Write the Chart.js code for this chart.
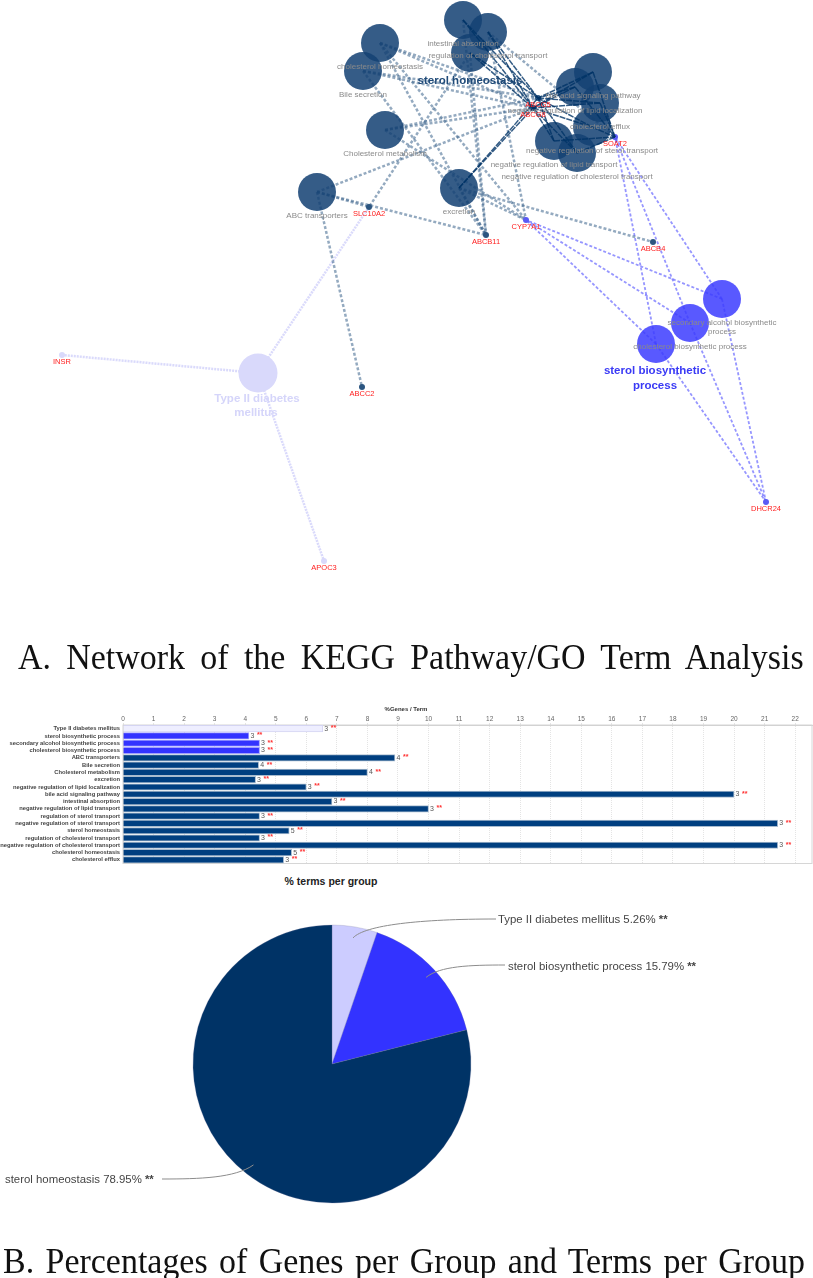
<!DOCTYPE html>
<html>
<head>
<meta charset="utf-8">
<script src="https://cdn.jsdelivr.net/npm/chart.js@4"></script>
<style>
  html, body { margin: 0; padding: 0; background: #fff; }
  body { position: relative; width: 813px; height: 1278px; overflow: hidden; }
  canvas { position: absolute; left: 0; }
  #netChart { top: 0; filter: blur(0.7px); }
  #barChart { top: 700px; filter: blur(0.4px); }
  #pieChart { top: 870px; }
  .caption {
    position: absolute; white-space: nowrap; z-index: 2; color: #111;
    font-family: "Liberation Serif", serif; font-size: 35px; line-height: 40px;
    transform-origin: left top; transform: scaleX(0.97);
  }
  #capA { left: 18px; top: 638px; word-spacing: 7px; }
  #capB { left: 3px; top: 1242px; word-spacing: 3px; }
  #pieTitle {
    position: absolute; left: 231px; width: 200px; top: 875px; text-align: center;
    font: bold 10.5px "Liberation Sans", sans-serif; color: #222;
  }
</style>
</head>
<body>
<canvas id="netChart" width="813" height="640"></canvas>
<div class="caption" id="capA">A. Network of the KEGG Pathway/GO Term Analysis</div>
<canvas id="barChart" width="813" height="170"></canvas>
<div id="pieTitle">% terms per group</div>
<canvas id="pieChart" width="813" height="388"></canvas>
<div class="caption" id="capB">B. Percentages of Genes per Group and Terms per Group</div>

<script>
// ===== DATA: bar chart =====
const barTerms = [
  'Type II diabetes mellitus', 'sterol biosynthetic process', 'secondary alcohol biosynthetic process',
  'cholesterol biosynthetic process', 'ABC transporters', 'Bile secretion', 'Cholesterol metabolism',
  'excretion', 'negative regulation of lipid localization', 'bile acid signaling pathway',
  'intestinal absorption', 'negative regulation of lipid transport', 'regulation of sterol transport',
  'negative regulation of sterol transport', 'sterol homeostasis', 'regulation of cholesterol transport',
  'negative regulation of cholesterol transport', 'cholesterol homeostasis', 'cholesterol efflux'
];
const barPercent = [6.54, 4.12, 4.47, 4.47, 8.9, 4.44, 8.0, 4.34, 6.0, 20.0, 6.84, 10.0, 4.47, 21.43, 5.44, 4.47, 21.43, 5.52, 5.26];
const barCounts = [3, 3, 3, 3, 4, 4, 4, 3, 3, 3, 3, 3, 3, 3, 5, 3, 3, 5, 3];
const barGroups = [0, 1, 1, 1, 2, 2, 2, 2, 2, 2, 2, 2, 2, 2, 2, 2, 2, 2, 2];

// ===== DATA: pie chart =====
const pieLabels = ['Type II diabetes mellitus', 'sterol biosynthetic process', 'sterol homeostasis'];
const pieValues = [5.26, 15.79, 78.95];

// ===== DATA: network =====
const termNames = [
  'intestinal absorption', 'regulation of cholesterol transport', '', 'cholesterol homeostasis',
  'Bile secretion', 'Cholesterol metabolism', 'ABC transporters', 'excretion',
  'bile acid signaling pathway', 'negative regulation of lipid localization', 'cholesterol efflux',
  'negative regulation of sterol transport', 'negative regulation of lipid transport',
  'negative regulation of cholesterol transport',
  'secondary alcohol biosynthetic', 'cholesterol biosynthetic process', '', ''
];
const termX = [463, 488, 470, 380, 363, 385, 317, 459, 593, 575, 600, 592, 554, 577, 722, 690, 656, 258];
const termY = [20, 32, 53, 43, 71, 130, 192, 188, 72, 87, 103, 127, 141, 153, 299, 323, 344, 373];
const geneNames = ['ABCG5', 'ABCG8', 'SOAT2', 'SLC10A2', 'ABCB11', 'CYP7A1', 'ABCB4', 'ABCC2', 'INSR', 'APOC3', 'DHCR24'];
const geneX = [538, 533, 615, 369, 486, 526, 653, 362, 62, 324, 766];
const geneY = [98, 108, 137, 207, 235, 220, 242, 387, 355, 561, 502];
// [term index, gene index]
const strongEdges = [[0,0],[0,1],[1,0],[1,1],[2,0],[2,1],[8,0],[8,1],[8,2],[9,0],[9,1],[9,2],[10,0],[10,1],[10,2],
  [11,0],[11,1],[11,2],[12,0],[12,1],[12,2],[13,0],[13,1],[13,2],[7,0],[7,1]];
const softEdges = [[3,0],[3,1],[3,5],[3,4],[4,0],[4,1],[4,4],[5,0],[5,1],[5,5],[6,1],[6,3],[6,4],[6,7],
  [7,4],[7,5],[7,6],[2,3],[2,4],[0,4],[1,5],[1,2]];
const blueEdges = [[14,5],[15,5],[16,5],[14,2],[15,2],[16,2],[14,10],[15,10],[16,10]];
const paleEdges = [[17,3],[17,8],[17,9]];
const darkTerms = [0, 1, 2, 3, 4, 5, 6, 7, 8, 9, 10, 11, 12, 13];
const blueTerms = [14, 15, 16];
const paleTerms = [17];
const darkGenes = [0, 1, 3, 4, 6, 7];
const blueGenes = [2, 5, 10];
const paleGenes = [8, 9];

const NAVY = 'rgba(20,65,115,0.86)';
const BLUE = 'rgba(60,60,255,0.85)';
const PALE = '#d9d9fb';

// ===== NETWORK =====
const termPts = ids => ids.map(i => ({ x: termX[i], y: termY[i] }));
const genePts = ids => ids.map(i => ({ x: geneX[i], y: geneY[i] }));
const edgeSets = (edges, color, width, dash) => edges.map(([t, g]) => ({
  type: 'line',
  data: [{ x: termX[t], y: termY[t] }, { x: geneX[g], y: geneY[g] }],
  borderColor: color, borderWidth: width, borderDash: dash, pointRadius: 0, fill: false
}));
const nodeSet = (data, color, radius) => ({
  type: 'scatter', data, backgroundColor: color, borderWidth: 0, pointRadius: radius
});

const netLabels = {
  id: 'netLabels',
  afterDatasetsDraw(chart) {
    const { ctx, scales: { x, y } } = chart;
    ctx.save();
    ctx.textAlign = 'center';
    ctx.textBaseline = 'middle';
    ctx.font = '8px "Liberation Sans", sans-serif';
    ctx.fillStyle = '#8a8a8a';
    termNames.forEach((name, i) => {
      ctx.fillText(name, x.getPixelForValue(termX[i]), y.getPixelForValue(termY[i] + 24));
    });
    ctx.fillText('process', x.getPixelForValue(722), y.getPixelForValue(332));
    ctx.font = '7.5px "Liberation Sans", sans-serif';
    ctx.fillStyle = '#ff2020';
    geneNames.forEach((name, i) => {
      ctx.fillText(name, x.getPixelForValue(geneX[i]), y.getPixelForValue(geneY[i] + 7));
    });
    ctx.font = 'bold 11.5px "Liberation Sans", sans-serif';
    ctx.fillStyle = '#1f4a78';
    ctx.fillText('sterol homeostasis', x.getPixelForValue(470), y.getPixelForValue(81));
    ctx.fillStyle = '#3a3af5';
    ctx.fillText('sterol biosynthetic', x.getPixelForValue(655), y.getPixelForValue(371));
    ctx.fillText('process', x.getPixelForValue(655), y.getPixelForValue(386));
    ctx.fillStyle = '#d5d5fa';
    ctx.fillText('Type II diabetes', x.getPixelForValue(257), y.getPixelForValue(399));
    ctx.fillText('mellitus', x.getPixelForValue(256), y.getPixelForValue(413));
    ctx.restore();
  }
};

new Chart(document.getElementById('netChart'), {
  type: 'scatter',
  data: {
    datasets: [
      ...edgeSets(strongEdges, 'rgba(0,51,102,0.8)', 1.5, [6, 1]),
      nodeSet(termPts(darkTerms), NAVY, 19),
      nodeSet(termPts(blueTerms), BLUE, 19),
      nodeSet(termPts(paleTerms), PALE, 19.5),
      nodeSet(genePts(darkGenes), '#2b5580', 3),
      nodeSet(genePts(blueGenes), '#5a5af5', 3),
      nodeSet(genePts(paleGenes), PALE, 3),
      ...edgeSets(softEdges, 'rgba(60,100,140,0.55)', 2.5, [3, 2]),
      ...edgeSets(blueEdges, 'rgba(80,80,255,0.6)', 1.8, [3, 2]),
      ...edgeSets(paleEdges, 'rgba(205,205,250,0.75)', 2.5, [2, 1])
    ]
  },
  options: {
    responsive: false,
    animation: false,
    layout: { autoPadding: false },
    plugins: { legend: { display: false }, tooltip: { enabled: false } },
    scales: {
      x: { type: 'linear', display: false, min: 0, max: 813 },
      y: { type: 'linear', display: false, min: 0, max: 640, reverse: true }
    }
  },
  plugins: [netLabels]
});

// ===== BAR CHART =====
const groupFill = ['#eeeeff', '#3333ff', '#003f80'];
const groupEdge = ['#d4d4f2', '#a0a0ff', '#a9bccf'];

const barEndLabels = {
  id: 'barEndLabels',
  beforeDatasetsDraw(chart) {
    const { ctx, chartArea: a } = chart;
    ctx.save();
    ctx.strokeStyle = '#d6d6d6';
    ctx.lineWidth = 1;
    ctx.strokeRect(a.left, a.top, a.right - a.left, a.bottom - a.top);
    ctx.restore();
  },
  afterDatasetsDraw(chart) {
    const { ctx } = chart;
    ctx.save();
    ctx.textBaseline = 'middle';
    chart.getDatasetMeta(0).data.forEach((bar, i) => {
      ctx.font = '7px "Liberation Sans", sans-serif';
      ctx.fillStyle = '#555';
      ctx.fillText(barCounts[i], bar.x + 1.5, bar.y);
      ctx.font = 'bold 7px "Liberation Sans", sans-serif';
      ctx.fillStyle = '#ff3030';
      ctx.fillText('**', bar.x + 8, bar.y - 0.5);
    });
    ctx.restore();
  }
};

new Chart(document.getElementById('barChart'), {
  type: 'bar',
  data: {
    labels: barTerms,
    datasets: [{
      data: barPercent,
      backgroundColor: barGroups.map(g => groupFill[g]),
      borderColor: barGroups.map(g => groupEdge[g]),
      borderWidth: 1,
      barThickness: 6.5
    }]
  },
  options: {
    indexAxis: 'y',
    responsive: false,
    animation: false,
    layout: { padding: { right: 1, bottom: 5 } },
    plugins: {
      legend: { display: false },
      tooltip: { enabled: false },
      title: {
        display: true, text: '%Genes / Term', position: 'top', color: '#333',
        font: { family: '"Liberation Sans", sans-serif', size: 6, weight: 'bold' },
        padding: { top: 6, bottom: 2 }
      }
    },
    scales: {
      x: {
        position: 'top', min: 0, max: 22.55,
        ticks: { stepSize: 1, includeBounds: false, color: '#666', padding: 0, maxRotation: 0,
          font: { family: '"Liberation Sans", sans-serif', size: 6.5 } },
        grid: { color: '#e4e4e4', tickLength: 2 },
        border: { color: '#cfcfcf', dash: [1, 1] }
      },
      y: {
        afterFit: s => { s.width = 123; },
        ticks: { autoSkip: false, color: '#444', padding: 3,
          font: { family: '"Liberation Sans", sans-serif', size: 5.8, weight: 'bold' } },
        grid: { display: false, drawTicks: false },
        border: { color: '#cfcfcf' }
      }
    }
  },
  plugins: [barEndLabels]
});

// ===== PIE CHART =====
// label start (canvas px) and the two curve handles of each leader line
const pieCallouts = [
  { tx: 498, ty: 50,  cp: [365, 55, 420, 49],   end: [496, 49] },
  { tx: 508, ty: 97,  cp: [440, 96, 470, 95],   end: [505, 95] },
  { tx: 5,   ty: 310, cp: [235, 308, 200, 309], end: [162, 309] }
];

const pieLeaders = {
  id: 'pieLeaders',
  afterDatasetsDraw(chart) {
    const { ctx } = chart;
    ctx.save();
    ctx.textBaseline = 'middle';
    chart.getDatasetMeta(0).data.forEach((arc, i) => {
      const c = pieCallouts[i];
      const mid = (arc.startAngle + arc.endAngle) / 2;
      const r = arc.outerRadius * 0.92;
      ctx.beginPath();
      ctx.moveTo(arc.x + Math.cos(mid) * r, arc.y + Math.sin(mid) * r);
      ctx.bezierCurveTo(c.cp[0], c.cp[1], c.cp[2], c.cp[3], c.end[0], c.end[1]);
      ctx.strokeStyle = '#8c8c8c';
      ctx.lineWidth = 1;
      ctx.stroke();
      const text = `${pieLabels[i]} ${pieValues[i]}% `;
      ctx.font = '11.4px "Liberation Sans", sans-serif';
      ctx.fillStyle = '#444';
      ctx.fillText(text, c.tx, c.ty);
      const w = ctx.measureText(text).width;
      ctx.font = 'bold 11.4px "Liberation Sans", sans-serif';
      ctx.fillText('**', c.tx + w, c.ty);
    });
    ctx.restore();
  }
};

new Chart(document.getElementById('pieChart'), {
  type: 'pie',
  data: {
    labels: pieLabels,
    datasets: [{
      data: pieValues,
      backgroundColor: ['#ccccff', '#3333ff', '#003366'],
      borderColor: 'rgba(120,120,160,0.5)',
      borderWidth: 0.5,
      radius: 139
    }]
  },
  options: {
    responsive: false,
    animation: false,
    layout: { padding: { right: 149 } },
    plugins: { legend: { display: false }, tooltip: { enabled: false } }
  },
  plugins: [pieLeaders]
});
</script>
</body>
</html>
